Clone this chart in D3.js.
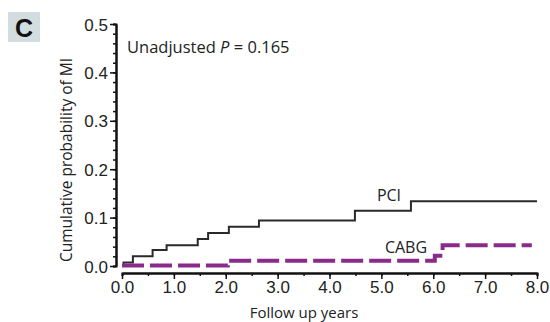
<!DOCTYPE html>
<html>
<head>
<meta charset="utf-8">
<script src="https://cdn.jsdelivr.net/npm/d3@7"></script>
<style>
  body { margin: 0; background: #fff; }
  text { font-family: "Liberation Sans", Arial, sans-serif; fill: #222; }
  .lbl { font-family: "Open Sans", "Liberation Sans", sans-serif; }
</style>
</head>
<body>
<svg id="chart"></svg>
<script>
// follow up years and cumulative probability of MI
const pciTimes = [0, 0.03, 0.21, 0.59, 0.86, 1.46, 1.66, 2.06, 2.64, 4.49, 5.57, 8.0];
const pciProb = [0, 0.007, 0.02, 0.033, 0.043, 0.056, 0.068, 0.081, 0.094, 0.114, 0.134, 0.134];
const cabgTimes = [0, 2.04, 6.03, 6.18, 7.9];
const cabgProb = [0.001, 0.011, 0.021, 0.043, 0.043];
const xTicks = [0, 1, 2, 3, 4, 5, 6, 7, 8];
const yTicks = [0, 0.1, 0.2, 0.3, 0.4, 0.5];

const width = 550, height = 322;

const svg = d3.select('#chart')
    .attr('width', width)
    .attr('height', height);

const x = d3.scaleLinear().domain([0, 8]).range([122, 537]);
const y = d3.scaleLinear().domain([0, 0.5]).range([266, 24]);

// panel letter
svg.append('rect')
    .attr('x', 8).attr('y', 12)
    .attr('width', 32).attr('height', 30)
    .attr('fill', '#d3dcdf');
svg.append('text')
    .attr('x', 24).attr('y', 37)
    .attr('text-anchor', 'middle')
    .style('font-size', '25px')
    .style('font-weight', 'bold')
    .style('fill', '#111')
    .text('C');

// y axis with minor ticks
const yAxisG = svg.append('g').attr('transform', 'translate(116,0)');
yAxisG.call(d3.axisLeft(y).tickValues(d3.range(0, 0.501, 0.02)).tickSize(3).tickFormat(''));
yAxisG.append('g').call(d3.axisLeft(y).tickValues(yTicks).tickSize(6).tickSizeOuter(0)
    .tickFormat(d3.format('.1f')));
yAxisG.selectAll('.domain').attr('stroke', '#111').attr('stroke-width', 2);
yAxisG.selectAll('.tick line').attr('stroke', '#111').attr('stroke-width', 1.5);
yAxisG.selectAll('.tick text').style('font-size', '17px').attr('dy', '0.36em').attr('x', -8);

// x axis with minor ticks
const xAxisG = svg.append('g').attr('transform', 'translate(0,273)');
xAxisG.call(d3.axisBottom(x).tickValues(d3.range(0, 8.01, 0.5)).tickSize(3).tickFormat(''));
xAxisG.append('g').call(d3.axisBottom(x).tickValues(xTicks).tickSize(6).tickSizeOuter(0)
    .tickFormat(d3.format('.1f')));
xAxisG.selectAll('.domain').attr('stroke', '#111').attr('stroke-width', 2);
xAxisG.selectAll('.tick line').attr('stroke', '#111').attr('stroke-width', 1.5);
xAxisG.selectAll('.tick text').style('font-size', '17px').attr('y', 8);

// step curves
const step = d3.line().curve(d3.curveStepAfter)
    .x(d => x(d[0])).y(d => y(d[1]));

svg.append('path')
    .datum(d3.zip(pciTimes, pciProb))
    .attr('d', step)
    .attr('fill', 'none')
    .attr('stroke', '#2a2a2a')
    .attr('stroke-width', 2);

svg.append('path')
    .datum(d3.zip(cabgTimes, cabgProb))
    .attr('d', step)
    .attr('fill', 'none')
    .attr('stroke', '#8a2b8c')
    .attr('stroke-width', 4)
    .attr('stroke-dasharray', '22,6');

// labels
svg.append('text').attr('class', 'lbl')
    .attr('x', 389).attr('y', 201)
    .attr('text-anchor', 'middle')
    .style('font-size', '16px')
    .text('PCI');
svg.append('text').attr('class', 'lbl')
    .attr('x', 406).attr('y', 253)
    .attr('text-anchor', 'middle')
    .style('font-size', '16px')
    .text('CABG');

const pText = svg.append('text').attr('class', 'lbl')
    .attr('x', 127).attr('y', 53)
    .style('font-size', '16.5px');
pText.append('tspan').text('Unadjusted ');
pText.append('tspan').style('font-style', 'italic').text('P');
pText.append('tspan').text(' = 0.165');

svg.append('text').attr('class', 'lbl')
    .attr('x', 304).attr('y', 318)
    .attr('text-anchor', 'middle')
    .style('font-size', '15px')
    .text('Follow up years');

svg.append('text').attr('class', 'lbl')
    .attr('transform', 'translate(72,160) rotate(-90)')
    .attr('text-anchor', 'middle')
    .style('font-size', '15.5px')
    .text('Cumulative probability of MI');
</script>
</body>
</html>
